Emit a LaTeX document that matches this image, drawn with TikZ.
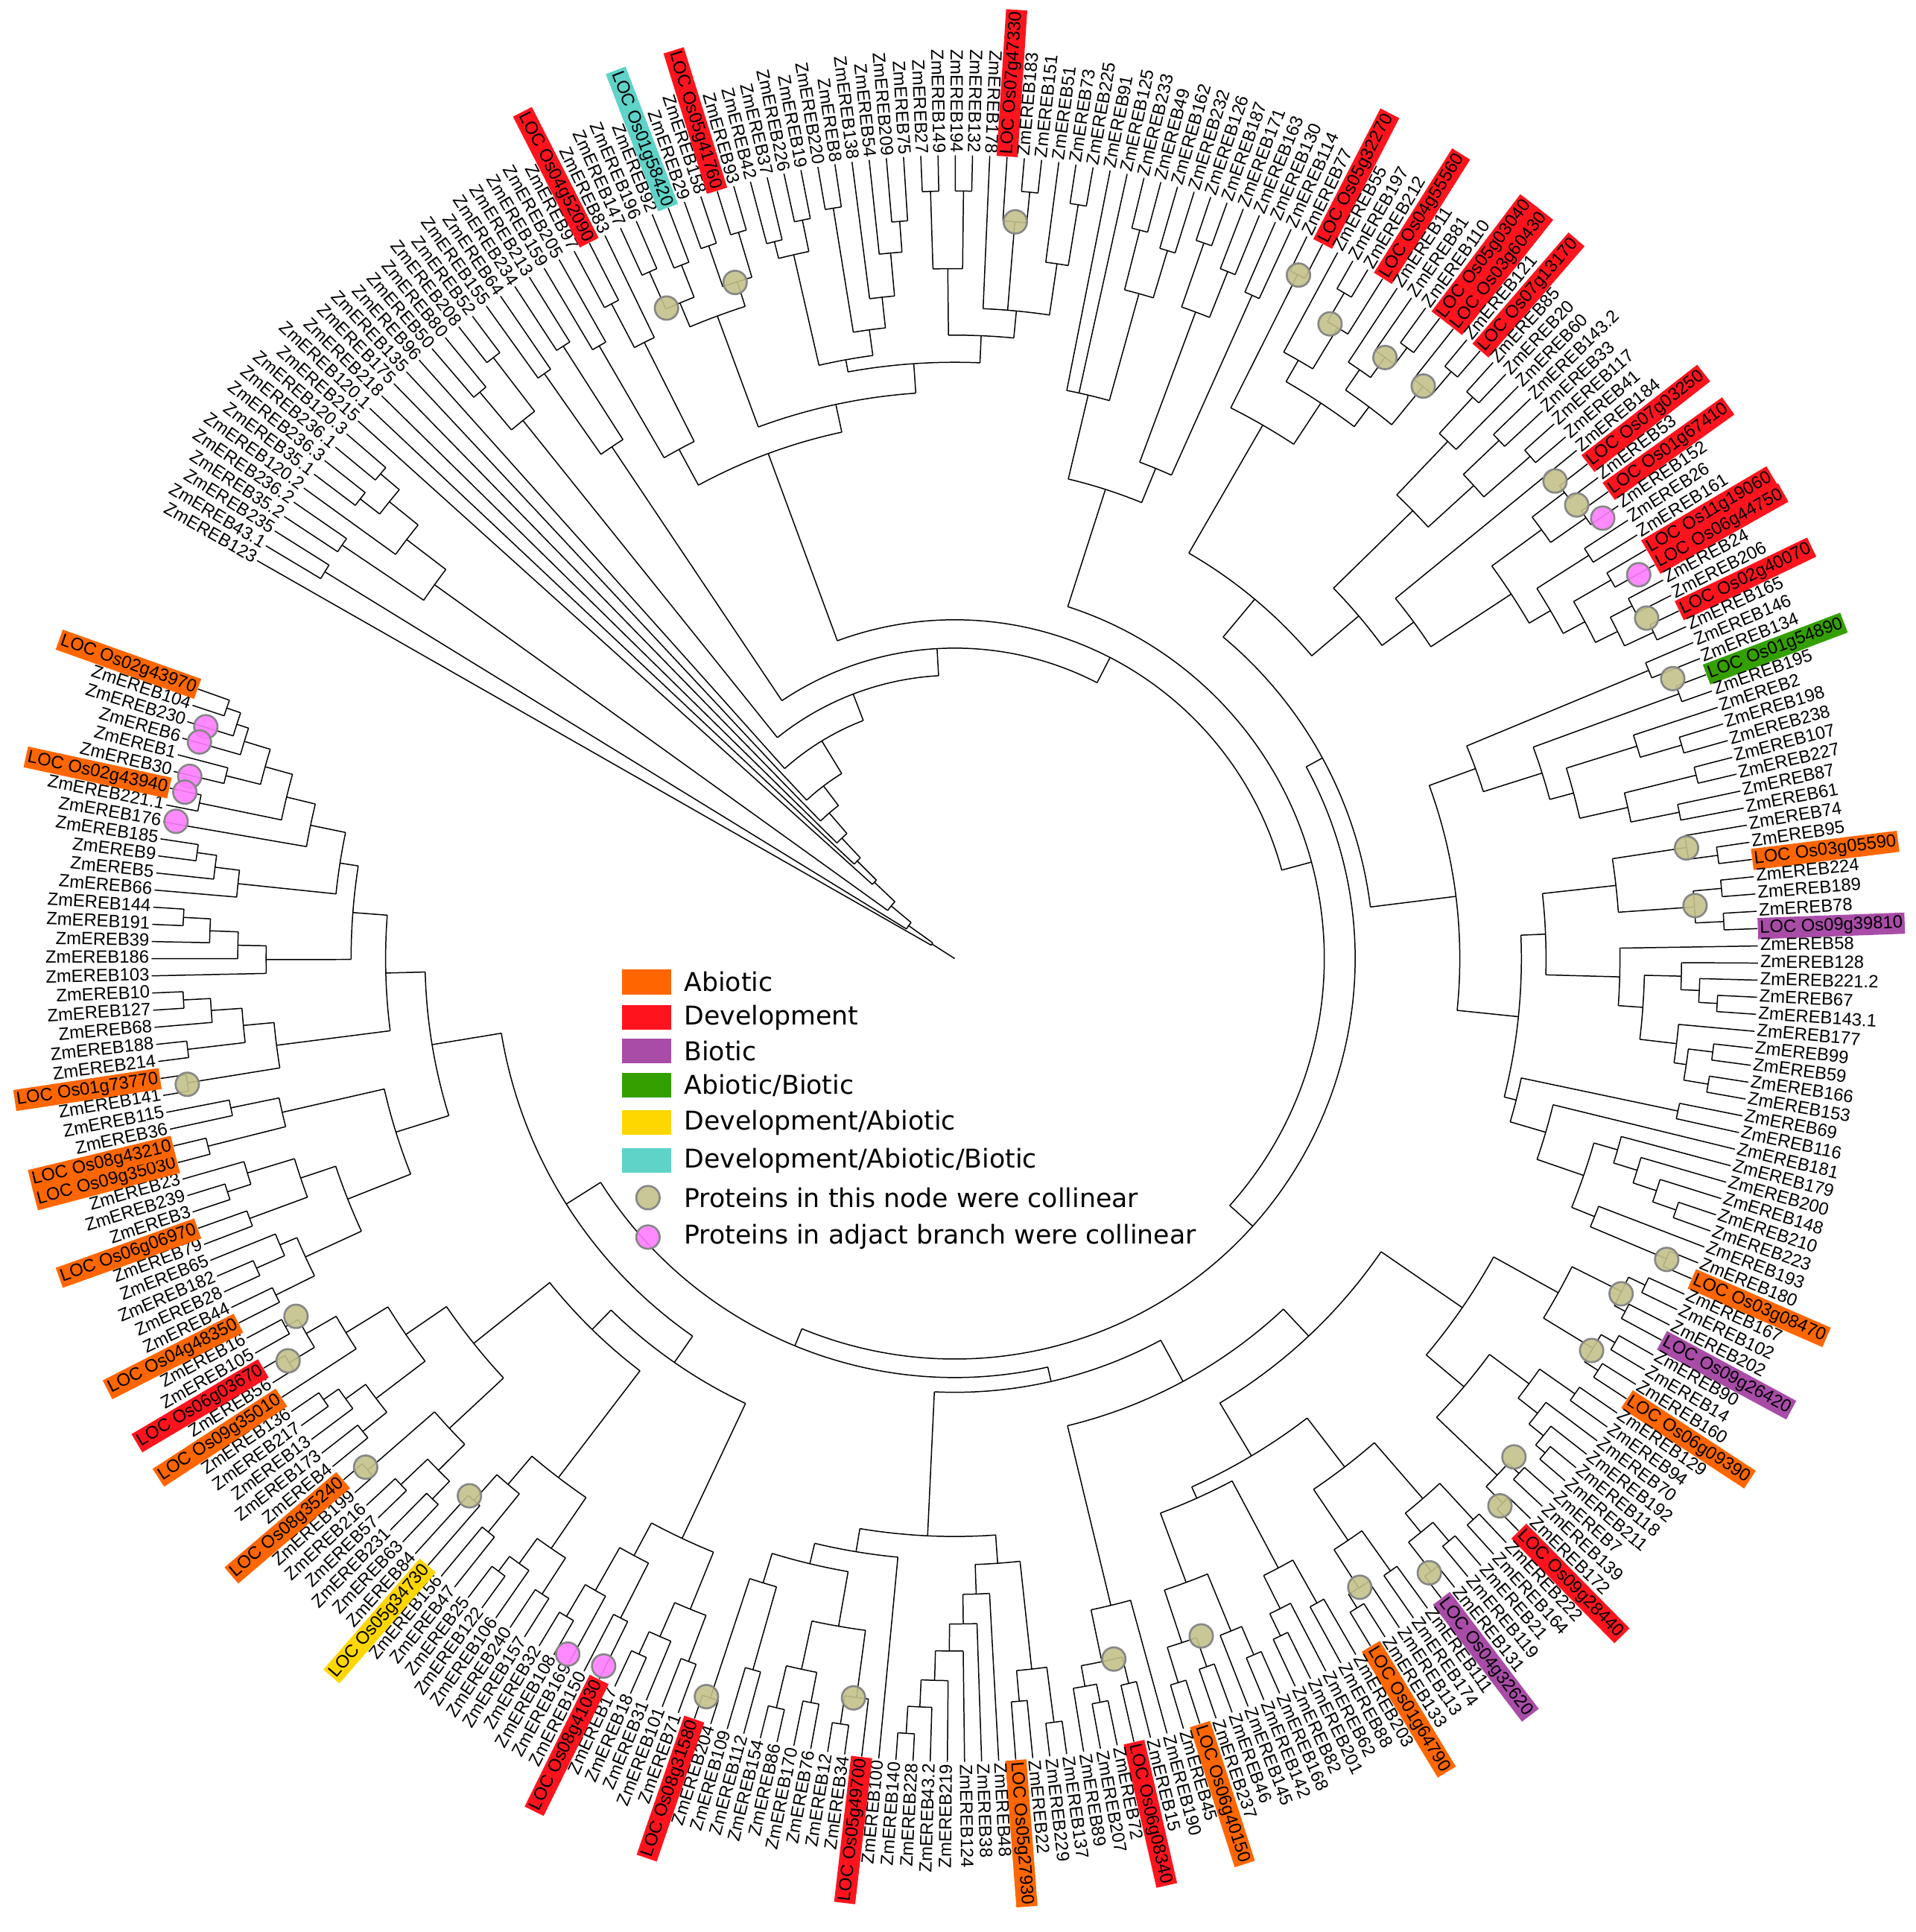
\documentclass[tikz,border=0pt]{standalone}
\usepackage{fontspec}
\setmainfont{Liberation Sans}
\newfontfamily\legfont{DejaVu Sans}
\definecolor{cA}{RGB}{255,102,0}
\definecolor{cD}{RGB}{255,20,30}
\definecolor{cB}{RGB}{168,76,168}
\definecolor{cG}{RGB}{52,160,0}
\definecolor{cY}{RGB}{255,215,0}
\definecolor{cC}{RGB}{95,211,200}
\definecolor{cO}{RGB}{196,194,138}
\definecolor{cP}{RGB}{255,125,255}
\definecolor{cR}{RGB}{135,135,135}
\makeatletter
\gdef\firstang{}
\gdef\lastang{}
\def\parentr{0}
\def\Rleaf{652}
\newcommand\setla[1]{\pgfmathsetmacro\la{(#1<53) ? (150.3-(#1-1)*1.2314) : ((#1<123) ? (87.5-(#1-52)*1.2371) : ((#1<197) ? (0.9-(#1-122)*1.2189) : (-89.3-(#1-196)*1.2256)))}}
\newcommand\Lf[1]{%
  \setla{#1}%
  \draw[br] (\la:\parentr) -- (\la:\Rleaf);%
  \ifx\firstang\@empty\xdef\firstang{\la}\fi
  \xdef\lastang{\la}%
}
\newcommand\Nd[2]{%
  \begingroup
    \let\savedfirst\firstang
    \let\savedlast\lastang
    \let\myparentr\parentr
    \def\parentr{#1}%
    \gdef\firstang{}%
    #2%
    \pgfmathsetmacro\myang{0.5*(\firstang)+0.5*(\lastang)}%
    \draw[br] (\firstang:#1) arc[start angle=\firstang, end angle=\lastang, radius=#1];%
    \draw[br] (\myang:\myparentr) -- (\myang:#1);%
    \xdef\resultang{\myang}%
    \global\let\firstang\savedfirst
    \global\let\lastang\savedlast
  \endgroup
  \ifx\firstang\@empty\xdef\firstang{\resultang}\fi
  \xdef\lastang{\resultang}%
}
\makeatother
% ---- subtrees ----
\def\trY{\Nd{560}{\Nd{600}{\Lf{17}\Lf{18}}\Nd{615}{\Lf{19}\Lf{20}}}}
\def\trX{\Nd{500}{\Nd{580}{\Lf{21}\Lf{22}}\Nd{590}{\Lf{23}\Lf{24}}}}
\def\trWa{\Nd{556}{\Nd{577}{\Nd{610}{\Lf{30}\Lf{31}}\Nd{605}{\Lf{32}\Lf{33}}}\Nd{577}{\Nd{612}{\Lf{34}\Lf{35}}\Nd{615}{\Lf{36}\Lf{37}}}}}
\def\trWc{\Nd{494}{\Nd{586}{\Nd{600}{\Lf{38}\Lf{39}}\Nd{612}{\Lf{40}\Lf{41}}}\Nd{515}{\Nd{617}{\Lf{42}\Lf{43}}\Nd{540}{\Lf{44}\Nd{575}{\Lf{45}\Nd{600}{\Lf{46}\Lf{47}}}}}}}
\def\trWd{\Nd{506}{\Nd{560}{\Nd{623}{\Lf{48}\Lf{49}}\Nd{623}{\Lf{50}\Lf{51}}}\Nd{528}{\Lf{52}\Nd{600}{\Lf{53}\Nd{625}{\Lf{54}\Lf{55}}}\Nd{570}{\Lf{56}\Nd{620}{\Lf{57}\Lf{58}}}}}}
\def\trW{\Nd{437}{\Nd{470}{\Nd{575}{\Lf{25}\Lf{26}}\Nd{560}{\Nd{600}{\Lf{27}\Lf{28}}\Lf{29}}}\Nd{460}{\trWa\Nd{484}{\trWc\trWd}}}}
\def\trT{\Nd{400}{\Nd{470}{\Lf{59}\Lf{60}\Nd{560}{\Nd{610}{\Lf{61}\Lf{62}}\Nd{600}{\Lf{63}\Lf{64}}}}\Nd{430}{\Nd{560}{\Nd{615}{\Lf{65}\Lf{66}}\Nd{600}{\Lf{67}\Lf{68}}}\Nd{590}{\Lf{69}\Lf{70}}}}}
\def\trRa{\Nd{380}{\Nd{500}{\Nd{621}{\Lf{71}\Lf{72}}\Nd{540}{\Nd{560}{\Lf{73}\Nd{599}{\Nd{626}{\Lf{74}\Lf{75}}\Lf{76}}}\Nd{560}{\Nd{580}{\Lf{77}\Nd{600}{\Lf{78}\Nd{617}{\Lf{79}\Lf{80}}}}\Nd{600}{\Lf{81}\Nd{624}{\Lf{82}\Lf{83}}}}}}\Nd{430}{\Nd{520}{\Nd{580}{\Nd{620}{\Lf{84}\Lf{85}}\Lf{86}}\Nd{570}{\Nd{610}{\Lf{87}\Lf{88}}\Nd{620}{\Lf{89}\Lf{90}}}}\Nd{462}{\Lf{91}\Nd{540}{\Nd{590}{\Nd{623}{\Lf{92}\Lf{93}}\Nd{625}{\Lf{94}\Lf{95}}}\Nd{560}{\Nd{610}{\Lf{96}\Lf{97}}\Nd{580}{\Nd{615}{\Lf{98}\Lf{99}}\Nd{600}{\Nd{620}{\Lf{100}\Lf{101}}\Nd{626}{\Lf{102}\Lf{103}}}}}}}}}}
\def\trRb{\Nd{410}{\Nd{450}{\Nd{610}{\Lf{104}\Lf{105}}\Nd{500}{\Nd{626}{\Lf{106}\Lf{107}}\Nd{520}{\Nd{580}{\Lf{108}\Nd{615}{\Lf{109}\Lf{110}}}\Nd{560}{\Nd{620}{\Lf{111}\Lf{112}}\Nd{600}{\Lf{113}\Lf{114}}}}}}\Nd{460}{\Nd{480}{\Nd{540}{\Nd{601}{\Lf{115}\Nd{625}{\Lf{116}\Lf{117}}}\Nd{602}{\Nd{625}{\Lf{118}\Lf{119}}\Nd{625}{\Lf{120}\Lf{121}}}}\Nd{540}{\Lf{122}\Nd{560}{\Nd{590}{\Lf{123}\Nd{605}{\Lf{124}\Nd{620}{\Lf{125}\Lf{126}}}}\Nd{590}{\Lf{127}\Nd{600}{\Nd{620}{\Lf{128}\Lf{129}}\Nd{620}{\Lf{130}\Lf{131}}}}}}}\Nd{470}{\Nd{600}{\Lf{132}\Lf{133}}\Nd{500}{\Lf{134}\Nd{540}{\Nd{560}{\Lf{135}\Nd{580}{\Lf{136}\Nd{600}{\Lf{137}\Nd{620}{\Lf{138}\Lf{139}}}}}\Nd{560}{\Lf{140}\Nd{627}{\Lf{141}\Lf{142}}}}}}}}}
\def\trOa{\Nd{605}{\Nd{620}{\Lf{143}\Lf{144}}\Nd{615}{\Lf{145}\Lf{146}}}}
\def\trOb{\Nd{607}{\Nd{620}{\Lf{147}\Lf{148}}\Nd{620}{\Lf{149}\Lf{150}}}}
\def\trBRb{\Nd{540}{\Nd{580}{\Nd{615}{\Lf{151}\Lf{152}}\Nd{600}{\Lf{153}\Nd{615}{\Lf{154}\Nd{625}{\Lf{155}\Lf{156}}}}}\Nd{608}{\Nd{620}{\Lf{157}\Lf{158}}\Nd{627}{\Lf{159}\Lf{160}}}}}
\def\trBRc{\Nd{520}{\Nd{580}{\Nd{620}{\Lf{161}\Lf{162}}\Nd{600}{\Nd{620}{\Lf{163}\Lf{164}}\Nd{630}{\Lf{165}\Lf{166}}}}\Nd{570}{\Nd{610}{\Lf{167}\Lf{168}}\Nd{607}{\Lf{169}\Nd{620}{\Lf{170}\Lf{171}}}}}}
\def\trBRd{\Nd{480}{\Nd{560}{\Nd{600}{\Lf{172}\Lf{173}}\Nd{590}{\Lf{174}\Nd{610}{\Lf{175}\Lf{176}}}}\Nd{540}{\Nd{590}{\Nd{615}{\Lf{177}\Lf{178}}\Lf{179}}\Nd{585}{\Nd{610}{\Lf{180}\Lf{181}}\Nd{615}{\Lf{182}\Lf{183}}}}}}
\def\trBR{\Nd{420}{\Nd{500}{\Nd{560}{\trOa\trOb}\trBRb}\Nd{470}{\trBRc\trBRd}}}
\def\trGa{\Nd{580}{\Nd{625}{\Lf{190}\Lf{191}}\Nd{605}{\Lf{192}\Lf{193}}}}
\def\trCat{\Nd{516}{\Lf{194}\Nd{540}{\Lf{195}\Nd{562}{\Lf{196}\Nd{586}{\Lf{197}\Nd{608}{\Lf{198}\Nd{630}{\Lf{199}\Lf{200}}}}}}}}
\def\trXb{\Nd{505}{\Nd{550}{\Nd{605}{\Lf{202}\Nd{628}{\Lf{203}\Lf{204}}}\Nd{590}{\Nd{615}{\Lf{205}\Lf{206}}\Nd{625}{\Lf{207}\Lf{208}}}}\Nd{530}{\Nd{600}{\Lf{209}\Lf{210}}\Nd{632}{\Lf{211}\Lf{212}}}}}
\def\trBtop{\Nd{469}{\Nd{492}{\trGa\trCat}\Nd{488}{\Lf{201}\trXb}}}
\def\trBLa{\Nd{520}{\Nd{570}{\Nd{610}{\Lf{213}\Lf{214}}\Nd{600}{\Lf{215}\Nd{620}{\Lf{216}\Lf{217}}}}\Nd{550}{\Nd{600}{\Lf{218}\Lf{219}}\Nd{590}{\Lf{220}\Nd{620}{\Lf{221}\Lf{222}}}}}}
\def\trBLb{\Nd{530}{\Nd{580}{\Nd{615}{\Lf{223}\Lf{224}}\Nd{605}{\Lf{225}\Nd{620}{\Lf{226}\Lf{227}}}}\Nd{560}{\Nd{600}{\Lf{228}\Lf{229}}\Nd{588}{\Lf{230}\Lf{231}}}}}
\def\trBLc{\Nd{500}{\Nd{560}{\Nd{590}{\Nd{610}{\Lf{232}\Lf{233}}\Nd{620}{\Lf{234}\Lf{235}}}\Nd{632}{\Lf{236}\Lf{237}}}\Nd{540}{\Nd{590}{\Nd{615}{\Lf{238}\Lf{239}}\Nd{610}{\Lf{240}\Nd{625}{\Lf{241}\Lf{242}}}}\Nd{580}{\Lf{243}\Nd{608}{\Nd{632}{\Lf{244}\Lf{245}}\Nd{620}{\Lf{246}\Lf{247}}}}}}}
\def\trBL{\Nd{399}{\trBLa\Nd{421}{\trBLb\trBLc}}}
\def\trLe{\Nd{475}{\Nd{530}{\Nd{580}{\Nd{615}{\Lf{248}\Lf{249}}\Nd{595}{\Nd{620}{\Lf{250}\Lf{251}}\Lf{252}}}\Nd{560}{\Nd{610}{\Lf{253}\Lf{254}}\Nd{600}{\Nd{620}{\Lf{255}\Lf{256}}\Lf{257}}}}\Nd{560}{\Nd{625}{\Lf{258}\Lf{259}}\Nd{600}{\Lf{260}\Lf{261}}}}}
\def\trLa{\Nd{555}{\Nd{631}{\Lf{262}\Lf{263}}\Nd{580}{\Nd{627}{\Lf{264}\Lf{265}}\Nd{605}{\Lf{266}\Nd{627}{\Lf{267}\Lf{268}}}}}}
\def\trLc{\Nd{559}{\Lf{269}\Nd{582}{\Lf{270}\Nd{605}{\Lf{271}\Nd{627}{\Lf{272}\Lf{273}}}}}}
\def\trPk{\Nd{534}{\Lf{278}\Nd{558}{\Nd{626}{\Lf{279}\Lf{280}}\Nd{581}{\Nd{610}{\Lf{281}\Lf{282}}\Nd{603}{\Lf{283}\Nd{613}{\Lf{284}\Nd{625}{\Lf{285}\Lf{286}}}}}}}}
\def\trLd{\Nd{505}{\Nd{585}{\Lf{274}\Nd{605}{\Lf{275}\Nd{621}{\Lf{276}\Lf{277}}}}\trPk}}
\def\trLL{\Nd{430}{\trLe\Nd{462}{\trLa\Nd{490}{\trLc\trLd}}}}
\def\trV{\Nd{300}{\trT\Nd{325}{\Nd{340}{\trRa\trRb}\Nd{340}{\Nd{352}{\Nd{390}{\trBR\Nd{540}{\Lf{184}\Nd{583}{\Nd{605}{\Lf{185}\Lf{186}}\Nd{600}{\Nd{615}{\Lf{187}\Lf{188}}\Lf{189}}}}}\trBtop}\Nd{373}{\trBL\trLL}}}}}

\begin{document}
\begin{tikzpicture}[x=0.5pt,y=0.5pt,
  br/.style={line width=0.45pt,black},
  lab/.style={font=\fontsize{7.2}{8}\selectfont, inner xsep=0.8pt, inner ysep=0.9pt, text height=5.3pt, text depth=1.5pt},
  oli/.style={fill=cO, draw=cR, line width=0.8pt, fill opacity=0.9},
  pnk/.style={fill=cP, draw=cR, line width=0.8pt, fill opacity=0.9},
  legtx/.style={font=\legfont\fontsize{10.5}{12}\selectfont, anchor=west, inner sep=0pt},
  legsw/.style={minimum width=20pt, minimum height=10pt, inner sep=0pt}]
\useasboundingbox (-775,-790) rectangle (780,778);
\fill[white] (-775,-790) rectangle (780,778);
% ---- tree ----
\def\parentr{0}
\Nd{22}{\Lf{1}\Nd{46}{\Nd{600}{\Lf{2}\Lf{3}}\Nd{67}{\Nd{520}{\Nd{600}{\Lf{4}\Lf{5}}\Nd{560}{\Lf{6}\Nd{590}{\Nd{610}{\Lf{7}\Lf{8}}\Nd{610}{\Lf{9}\Lf{10}}}}}\Nd{90}{\Lf{11}\Nd{112}{\Lf{12}\Nd{134}{\Lf{13}\Nd{156}{\Lf{14}\Nd{176}{\Lf{15}\Nd{207}{\Lf{16}\Nd{230}{\trY\Nd{252}{\trX\Nd{275}{\trW\trV}}}}}}}}}}}}
% ---- labels ----
\foreach \i/\t/\f in {1/ZmEREB123/none,2/ZmEREB43.1/none,3/ZmEREB235/none,4/ZmEREB35.2/none,5/ZmEREB236.2/none,6/ZmEREB120.2/none,7/ZmEREB35.1/none,8/ZmEREB236.3/none,9/ZmEREB236.1/none,10/ZmEREB120.3/none,11/ZmEREB215/none,12/ZmEREB120.1/none,13/ZmEREB218/none,14/ZmEREB175/none,15/ZmEREB135/none,16/ZmEREB96/none,17/ZmEREB50/none,18/ZmEREB80/none,19/ZmEREB208/none,20/ZmEREB52/none,21/ZmEREB155/none,22/ZmEREB64/none,23/ZmEREB234/none,24/ZmEREB213/none,25/ZmEREB159/none,26/ZmEREB205/none,27/ZmEREB97/none,28/LOC Os04g52090/cD,29/ZmEREB83/none,30/ZmEREB147/none,31/ZmEREB196/none,32/ZmEREB92/none,33/LOC Os01g58420/cC,34/ZmEREB29/none,35/ZmEREB158/none,36/LOC Os05g41760/cD,37/ZmEREB93/none,38/ZmEREB42/none,39/ZmEREB37/none,40/ZmEREB226/none,41/ZmEREB19/none,42/ZmEREB220/none,43/ZmEREB8/none,44/ZmEREB138/none,45/ZmEREB54/none,46/ZmEREB209/none,47/ZmEREB75/none,48/ZmEREB27/none,49/ZmEREB149/none,50/ZmEREB194/none,51/ZmEREB132/none,52/ZmEREB178/none,53/LOC Os07g47330/cD,54/ZmEREB183/none,55/ZmEREB151/none,56/ZmEREB51/none,57/ZmEREB73/none,58/ZmEREB225/none,59/ZmEREB91/none,60/ZmEREB125/none,61/ZmEREB233/none,62/ZmEREB49/none,63/ZmEREB162/none,64/ZmEREB232/none,65/ZmEREB126/none,66/ZmEREB187/none,67/ZmEREB171/none,68/ZmEREB163/none,69/ZmEREB130/none,70/ZmEREB114/none,71/ZmEREB77/none,72/LOC Os05g32270/cD,73/ZmEREB55/none,74/ZmEREB197/none,75/ZmEREB212/none,76/LOC Os04g55560/cD,77/ZmEREB11/none,78/ZmEREB81/none,79/ZmEREB110/none,80/LOC Os05g03040/cD,81/LOC Os03g60430/cD,82/ZmEREB121/none,83/LOC Os07g13170/cD,84/ZmEREB85/none,85/ZmEREB20/none,86/ZmEREB60/none,87/ZmEREB143.2/none,88/ZmEREB33/none,89/ZmEREB117/none,90/ZmEREB41/none,91/ZmEREB184/none,92/LOC Os07g03250/cD,93/ZmEREB53/none,94/LOC Os01g67410/cD,95/ZmEREB152/none,96/ZmEREB26/none,97/ZmEREB161/none,98/LOC Os11g19060/cD,99/LOC Os06g44750/cD,100/ZmEREB24/none,101/ZmEREB206/none,102/LOC Os02g40070/cD,103/ZmEREB165/none,104/ZmEREB146/none,105/ZmEREB134/none,106/LOC Os01g54890/cG,107/ZmEREB195/none,108/ZmEREB2/none,109/ZmEREB198/none,110/ZmEREB238/none,111/ZmEREB107/none,112/ZmEREB227/none,113/ZmEREB87/none,114/ZmEREB61/none,115/ZmEREB74/none,116/ZmEREB95/none,117/LOC Os03g05590/cA,118/ZmEREB224/none,119/ZmEREB189/none,120/ZmEREB78/none,121/LOC Os09g39810/cB,122/ZmEREB58/none,123/ZmEREB128/none,124/ZmEREB221.2/none,125/ZmEREB67/none,126/ZmEREB143.1/none,127/ZmEREB177/none,128/ZmEREB99/none,129/ZmEREB59/none,130/ZmEREB166/none,131/ZmEREB153/none,132/ZmEREB69/none,133/ZmEREB116/none,134/ZmEREB181/none,135/ZmEREB179/none,136/ZmEREB200/none,137/ZmEREB148/none,138/ZmEREB210/none,139/ZmEREB223/none,140/ZmEREB193/none,141/ZmEREB180/none,142/LOC Os03g08470/cA,143/ZmEREB167/none,144/ZmEREB102/none,145/ZmEREB202/none,146/LOC Os09g26420/cB,147/ZmEREB90/none,148/ZmEREB14/none,149/ZmEREB160/none,150/LOC Os06g09390/cA,151/ZmEREB129/none,152/ZmEREB94/none,153/ZmEREB70/none,154/ZmEREB192/none,155/ZmEREB118/none,156/ZmEREB211/none,157/ZmEREB7/none,158/ZmEREB139/none,159/ZmEREB172/none,160/LOC Os09g28440/cD,161/ZmEREB222/none,162/ZmEREB164/none,163/ZmEREB21/none,164/ZmEREB119/none,165/ZmEREB131/none,166/LOC Os04g32620/cB,167/ZmEREB111/none,168/ZmEREB174/none,169/ZmEREB113/none,170/ZmEREB133/none,171/LOC Os01g64790/cA,172/ZmEREB203/none,173/ZmEREB88/none,174/ZmEREB62/none,175/ZmEREB201/none,176/ZmEREB82/none,177/ZmEREB168/none,178/ZmEREB142/none,179/ZmEREB145/none,180/ZmEREB46/none,181/ZmEREB237/none,182/LOC Os06g40150/cA,183/ZmEREB45/none,184/ZmEREB190/none,185/ZmEREB15/none,186/LOC Os06g08340/cD,187/ZmEREB72/none,188/ZmEREB207/none,189/ZmEREB89/none,190/ZmEREB137/none,191/ZmEREB229/none,192/ZmEREB22/none,193/LOC Os05g27930/cA,194/ZmEREB48/none,195/ZmEREB38/none,196/ZmEREB124/none,197/ZmEREB219/none,198/ZmEREB43.2/none,199/ZmEREB228/none,200/ZmEREB140/none,201/ZmEREB100/none,202/LOC Os05g49700/cD,203/ZmEREB34/none,204/ZmEREB12/none,205/ZmEREB76/none,206/ZmEREB170/none,207/ZmEREB86/none,208/ZmEREB154/none,209/ZmEREB112/none,210/ZmEREB109/none,211/ZmEREB204/none,212/LOC Os08g31580/cD,213/ZmEREB71/none,214/ZmEREB101/none,215/ZmEREB31/none,216/ZmEREB18/none,217/ZmEREB17/none,218/LOC Os08g41030/cD,219/ZmEREB150/none,220/ZmEREB169/none,221/ZmEREB108/none,222/ZmEREB32/none,223/ZmEREB157/none,224/ZmEREB240/none,225/ZmEREB106/none,226/ZmEREB122/none,227/ZmEREB25/none,228/ZmEREB47/none,229/ZmEREB156/none,230/LOC Os05g34730/cY,231/ZmEREB84/none,232/ZmEREB63/none,233/ZmEREB231/none,234/ZmEREB57/none,235/ZmEREB216/none,236/ZmEREB199/none,237/LOC Os08g35240/cA,238/ZmEREB4/none,239/ZmEREB173/none,240/ZmEREB13/none,241/ZmEREB217/none,242/ZmEREB136/none,243/LOC Os09g35010/cA,244/ZmEREB56/none,245/LOC Os06g03670/cD,246/ZmEREB105/none,247/ZmEREB16/none,248/LOC Os04g48350/cA,249/ZmEREB44/none,250/ZmEREB28/none,251/ZmEREB182/none,252/ZmEREB65/none,253/ZmEREB79/none,254/LOC Os06g06970/cA,255/ZmEREB3/none,256/ZmEREB239/none,257/ZmEREB23/none,258/LOC Os09g35030/cA,259/LOC Os08g43210/cA,260/ZmEREB36/none,261/ZmEREB115/none,262/ZmEREB141/none,263/LOC Os01g73770/cA,264/ZmEREB214/none,265/ZmEREB188/none,266/ZmEREB68/none,267/ZmEREB127/none,268/ZmEREB10/none,269/ZmEREB103/none,270/ZmEREB186/none,271/ZmEREB39/none,272/ZmEREB191/none,273/ZmEREB144/none,274/ZmEREB66/none,275/ZmEREB5/none,276/ZmEREB9/none,277/ZmEREB185/none,278/ZmEREB176/none,279/ZmEREB221.1/none,280/LOC Os02g43940/cA,281/ZmEREB30/none,282/ZmEREB1/none,283/ZmEREB6/none,284/ZmEREB230/none,285/ZmEREB104/none,286/LOC Os02g43970/cA}{
  \setla{\i}
  \let\a\la
  \pgfmathsetmacro\b{\a+180}
  \ifdim\a pt>87pt
    \node[lab,fill=\f,anchor=east,rotate=\b] (L\i) at (\a:\Rleaf) {\t};
  \else\ifdim\a pt<-90pt
    \node[lab,fill=\f,anchor=east,rotate=\b] (L\i) at (\a:\Rleaf) {\t};
  \else
    \node[lab,fill=\f,anchor=west,rotate=\a] (L\i) at (\a:\Rleaf) {\t};
  \fi\fi
}
% ---- collinearity markers ----
\foreach \a/\r in {113.9/577.5,108.0/577,85.3/600,63.3/621,59.4/598.5,54.4/600,50.7/600.5,38.5/622.7,36.1/624.9,26.2/626,21.3/625.6,8.6/600.8,4.1/602.5,-22.9/627.4,-26.7/605.5,-31.6/607,-41.7/608,-45.1/627,-52.3/630,-57.2/607,-70.0/585,-77.2/583,-97.8/605.6,-108.6/632,-132.1/587.6,-139.2/631.7,-148.9/632,-151.5/608.5,-170.7/631.3}
  \path[oli] (\a:\r) circle[radius=9.5];
\foreach \a/\r in {34.2/636,29.3/636.7,-197.2/636.4,-196/637.8,-193.4/638.4,-192.2/639.4,-190/641.8,-119.1/646,-116.4/641}
  \path[pnk] (\a:\r) circle[radius=9.5];
% ---- legend ----
\node[legsw,fill=cA] (s1) at (-250,-19) {};
\node[legsw,fill=cD] (s2) at (-250,-48) {};
\node[legsw,fill=cB] (s3) at (-250,-75) {};
\node[legsw,fill=cG] (s4) at (-250,-103) {};
\node[legsw,fill=cY] (s5) at (-250,-133) {};
\node[legsw,fill=cC] (s6) at (-250,-164) {};
\node[legtx] (t1) at (-220,-19) {Abiotic};
\node[legtx] (t2) at (-220,-48) {Development};
\node[legtx] (t3) at (-220,-75) {Biotic};
\node[legtx] (t4) at (-220,-103) {Abiotic/Biotic};
\node[legtx] (t5) at (-220,-133) {Development/Abiotic};
\node[legtx] (t6) at (-220,-164) {Development/Abiotic/Biotic};
\path[oli] (-249,-194) circle[radius=9.5];
\path[pnk] (-249,-226) circle[radius=9.5];
\node[legtx] (t7) at (-220,-194) {Proteins in this node were collinear};
\node[legtx] (t8) at (-220,-226) {Proteins in adjact branch were collinear};
\end{tikzpicture}
\end{document}
